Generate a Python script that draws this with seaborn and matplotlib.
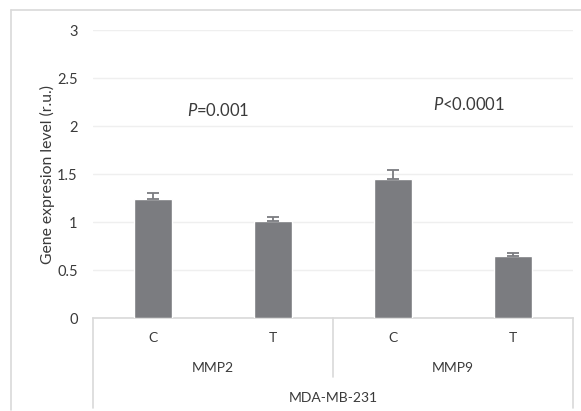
import matplotlib
matplotlib.use("Agg")
import matplotlib.pyplot as plt
from matplotlib.lines import Line2D
import seaborn as sns
import pandas as pd

# Gene expression data (relative units), MDA-MB-231 cells
genes = ["MMP2", "MMP2", "MMP9", "MMP9"]
conditions = ["C", "T", "C", "T"]
expression = [1.24, 1.01, 1.45, 0.645]
error_up = [0.065, 0.045, 0.09, 0.03]
p_labels = ["=0.001", "<0.0001"]
cell_line = "MDA-MB-231"

keys = [f"{g} {c}" for g, c in zip(genes, conditions)]
df = pd.DataFrame({"key": keys, "expression": expression})

sns.set_theme(style="white")
plt.rcParams["font.family"] = ["Lato", "DejaVu Sans"]
plt.rcParams["mathtext.fontset"] = "custom"
plt.rcParams["mathtext.it"] = "Lato:italic"
plt.rcParams["mathtext.rm"] = "Lato"

W, H = 581, 411
fig = plt.figure(figsize=(W / 100, H / 100), dpi=100)
fig.patch.set_facecolor("white")

x0, x1, y_top, y_bot = 93, 573, 30, 318
ax = fig.add_axes([x0 / W, 1 - y_bot / H, (x1 - x0) / W, (y_bot - y_top) / H])

bar_color = "#7b7c80"
text_color = "#3a3a3a"
line_color = "#d9d9d9"

sns.barplot(data=df, x="key", y="expression", order=keys, color=bar_color,
            width=0.32, saturation=1, errorbar=None, ax=ax, zorder=3)

# upper-only error bars
ax.errorbar(range(len(keys)), expression, yerr=[[0] * len(keys), error_up],
            fmt="none", ecolor=bar_color, elinewidth=1.3, capsize=4.5,
            capthick=1.3, zorder=4)

ax.set_ylim(0, 3)
ax.set_xlim(-0.5, len(keys) - 0.5)
ax.set_yticks([0, 0.5, 1, 1.5, 2, 2.5, 3])
ax.set_yticklabels(["0", "0.5", "1", "1.5", "2", "2.5", "3"])
ax.yaxis.grid(True, color="#efefef", linewidth=1.0, zorder=0)
ax.set_axisbelow(True)
ax.tick_params(axis="y", length=0, pad=11, labelsize=10.5, labelcolor=text_color)
ax.tick_params(axis="x", length=0)
ax.set_xticklabels([])
ax.set_xlabel("")
ax.set_ylabel("Gene expresion level (r.u.)", fontsize=11.3, color=text_color)
ax.yaxis.set_label_coords(-0.08, 0.5)
for s in ["top", "right", "left"]:
    ax.spines[s].set_visible(False)
ax.spines["bottom"].set_color(line_color)
ax.spines["bottom"].set_linewidth(1.2)

tr = ax.get_xaxis_transform()

def px_to_axes(y):
    return -(y - y_bot) / (y_bot - y_top)

# category rows
for i, c in enumerate(conditions):
    ax.text(i, px_to_axes(338), c, transform=tr, ha="center", va="center",
            fontsize=10, color=text_color, clip_on=False)
for j, g in enumerate(["MMP2", "MMP9"]):
    ax.text(2 * j + 0.5, px_to_axes(368), g, transform=tr, ha="center",
            va="center", fontsize=10, color=text_color, clip_on=False)
ax.text(1.5, px_to_axes(398), cell_line, transform=tr, ha="center",
        va="center", fontsize=10, color=text_color, clip_on=False)

# group separators
for xs, yend in [(-0.5, 408), (1.5, 377), (3.5, 408)]:
    ax.add_line(Line2D([xs, xs], [0, px_to_axes(yend)], transform=tr,
                       color=line_color, linewidth=1.2, clip_on=False))

# p-value annotations
ax.text(0.54, 2.16, r"$\it{P}$" + p_labels[0], ha="center", va="center",
        fontsize=12, color=text_color)
ax.text(2.63, 2.22, r"$\it{P}$" + p_labels[1], ha="center", va="center",
        fontsize=12, color=text_color)

# chart frame
fig.add_artist(Line2D([11 / W, 11 / W], [1 - 10 / H, 1 - 410 / H],
                      transform=fig.transFigure, color=line_color, linewidth=1.2))
fig.add_artist(Line2D([11 / W, 1], [1 - 10 / H, 1 - 10 / H],
                      transform=fig.transFigure, color=line_color, linewidth=1.2))

fig.savefig("out.png", dpi=100, facecolor="white")
